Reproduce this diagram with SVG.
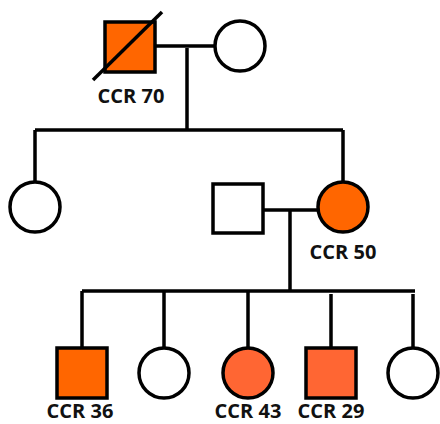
<svg xmlns="http://www.w3.org/2000/svg" width="440" height="424" viewBox="0 0 440 424">
<style>
.s{stroke:#000;stroke-width:3.5;}
.e{fill:#fff;}
.a{fill:#FF6600;}
.b{fill:#FF6633;}
.l{stroke:#000;stroke-width:3.5;fill:none;}
text{font-family:"Open Sans","Noto Sans",sans-serif;font-weight:700;font-size:20px;fill:#111;text-anchor:middle;}
</style>
<rect width="440" height="424" fill="#fff"/>
<g id="connectors">
<path class="l" d="M155 46H215 M187 48V130 M35 130H343 M35 130V182 M343 130V182 M263 210H318 M290 210V291 M82 291H415 M82 291V348 M164 291V348 M248 291V348 M331 294V348 M413 294V348"/>
</g>
<g id="gf"><rect class="s a" x="105" y="22" width="50" height="50"/><line class="l" x1="93" y1="80" x2="162" y2="12"/><text x="131" y="103">CCR 70</text></g>
<g id="gm"><circle class="s e" cx="240" cy="46" r="25"/></g>
<g id="aunt"><circle class="s e" cx="35" cy="207" r="25"/></g>
<g id="father"><rect class="s e" x="213" y="184" width="50" height="49"/></g>
<g id="mother"><circle class="s a" cx="343" cy="207" r="25"/><text x="343" y="259">CCR 50</text></g>
<g id="c1"><rect class="s a" x="57" y="348" width="50" height="50"/><text x="80" y="418">CCR 36</text></g>
<g id="c2"><circle class="s e" cx="164" cy="373" r="25"/></g>
<g id="c3"><circle class="s b" cx="248" cy="373" r="25"/><text x="248" y="418">CCR 43</text></g>
<g id="c4"><rect class="s b" x="306" y="348" width="50" height="50"/><text x="331" y="418">CCR 29</text></g>
<g id="c5"><circle class="s e" cx="413" cy="373" r="25"/></g>
</svg>
